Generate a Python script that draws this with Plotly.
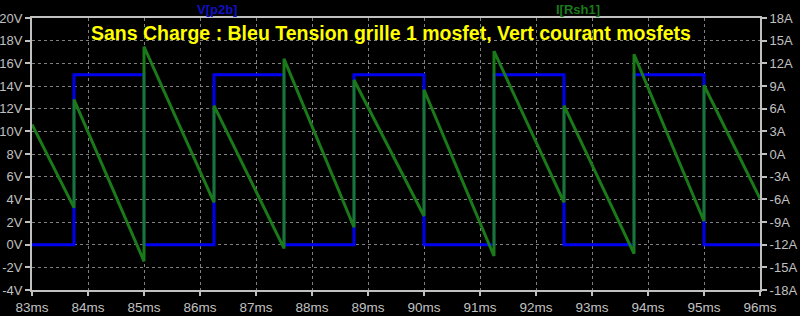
import plotly.graph_objects as go

# Blue: V[p2b] gate voltage (V), step waveform
blue_t = [83, 83.75, 85, 86.25, 87.5, 88.75, 90, 91.25, 92.5, 93.75, 95, 96]
blue_v = [0, 15, 0, 15, 0, 15, 0, 15, 0, 15, 0, 0]

# Green: I[Rsh1] mosfet current (A), sawtooth
green_t = [83, 83.75, 83.75, 85, 85, 86.25, 86.25, 87.5, 87.5, 88.75, 88.75,
           90, 90, 91.25, 91.25, 92.5, 92.5, 93.75, 93.75, 95, 95, 96]
green_a = [3.9, -7.1, 7.2, -14.2, 14.2, -6.4, 6.4, -12.5, 12.6, -9.7, 9.8,
           -8.2, 8.5, -13.5, 13.6, -6.4, 6.4, -13.2, 13.2, -8.9, 9.1, -5.9]

x_ticks = list(range(83, 97))
x_labels = [f"{t}ms" for t in x_ticks]
yl_ticks = list(range(-4, 21, 2))
yl_labels = [f"{v}V" for v in yl_ticks]
yr_ticks = list(range(-18, 19, 3))
yr_labels = [f"{v}A" for v in yr_ticks]

title_text = "Sans Charge : Bleu Tension grille 1 mosfet, Vert courant mosfets"

FRAME = "#c0c0c0"
GRID = "#808080"
TICKFONT = dict(family="Liberation Sans", size=13, color="#c0c0c0")
XTICKFONT = dict(family="Liberation Sans", size=13.5, color="#c0c0c0")

fig = go.Figure()
fig.add_trace(go.Scatter(x=blue_t, y=blue_v, mode="lines", line_shape="hv",
                         line=dict(color="#0000f0", width=3), yaxis="y"))
fig.add_trace(go.Scatter(x=green_t, y=green_a, mode="lines",
                         line=dict(color="#1a7a1a", width=3), yaxis="y2"))

fig.update_layout(
    width=800, height=316,
    margin=dict(l=32, r=40, t=18, b=26),
    paper_bgcolor="black", plot_bgcolor="black",
    showlegend=False,
    xaxis=dict(range=[83, 96], tickvals=x_ticks, ticktext=x_labels,
               showgrid=True, gridcolor=GRID, griddash="3px,3px", gridwidth=1,
               showline=True, linecolor=FRAME, linewidth=2, mirror=True,
               ticks="outside", ticklen=4, tickwidth=2, tickcolor=FRAME,
               tickfont=XTICKFONT, zeroline=False, automargin=False),
    yaxis=dict(range=[-4, 20], tickvals=yl_ticks, ticktext=yl_labels,
               showgrid=True, gridcolor=GRID, griddash="3px,3px", gridwidth=1,
               showline=True, linecolor=FRAME, linewidth=2,
               ticks="outside", ticklen=5, tickwidth=2, tickcolor=FRAME,
               tickfont=TICKFONT, zeroline=False, automargin=False,
               ticklabelstandoff=0),
    yaxis2=dict(range=[-18, 18], tickvals=yr_ticks, ticktext=yr_labels,
                overlaying="y", side="right", showgrid=False,
                showline=True, linecolor=FRAME, linewidth=2,
                ticks="outside", ticklen=5, tickwidth=2, tickcolor=FRAME,
                tickfont=TICKFONT, zeroline=False, automargin=False,
                ticklabelstandoff=0),
    annotations=[
        dict(text="<b>" + title_text + "</b>", xref="paper", yref="paper",
             x=0.493, y=0.945, xanchor="center", yanchor="middle",
             showarrow=False,
             font=dict(family="Liberation Sans", size=19.5, color="#ffff00")),
        dict(text="<b>V[p2b]</b>", xref="paper", yref="paper", x=0.254,
             y=1.032, xanchor="center", yanchor="middle", showarrow=False,
             font=dict(family="Liberation Sans", size=13, color="#1010c0")),
        dict(text="<b>I[Rsh1]</b>", xref="paper", yref="paper", x=0.75,
             y=1.032, xanchor="center", yanchor="middle", showarrow=False,
             font=dict(family="Liberation Sans", size=13, color="#1a7a1a")),
    ],
)
fig.write_html("out.html")
